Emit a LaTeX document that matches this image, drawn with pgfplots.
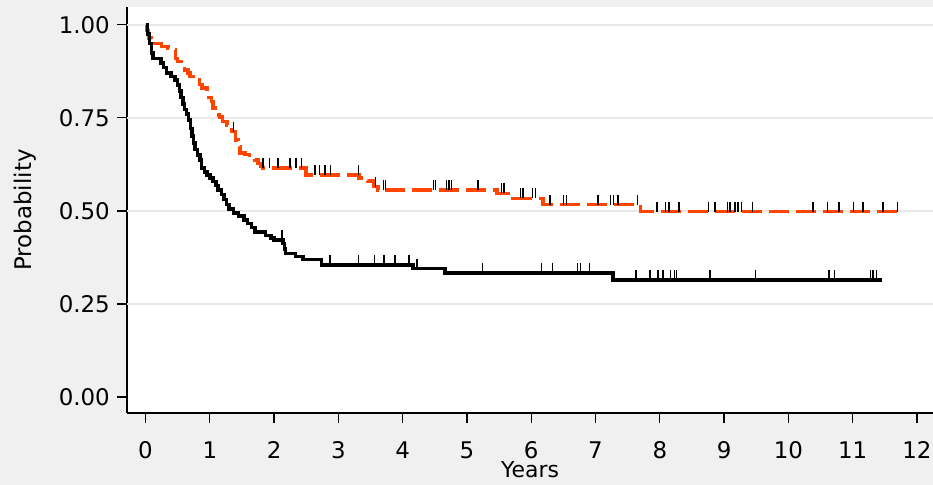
\documentclass[border=0pt]{standalone}
\usepackage{fontspec}
\setmainfont{DejaVu Sans}
\usepackage{pgfplots}
\pgfplotsset{compat=1.18}
\usepackage{pgfplotstable}
\definecolor{bggray}{RGB}{240,240,240}
\definecolor{gridgray}{RGB}{232,232,232}
\definecolor{kmorange}{RGB}{255,69,0}
\pgfdeclareplotmark{cens}{\pgfpathmoveto{\pgfpoint{0pt}{0pt}}\pgfpathlineto{\pgfpoint{0pt}{10bp}}\pgfusepathqstroke}

\pgfplotstableread{
t s
0.00 1.000
0.03 0.975
0.06 0.950
0.09 0.925
0.12 0.910
0.24 0.898
0.28 0.885
0.33 0.870
0.40 0.861
0.46 0.852
0.50 0.838
0.53 0.822
0.55 0.805
0.58 0.788
0.61 0.772
0.64 0.760
0.67 0.745
0.70 0.722
0.72 0.702
0.75 0.683
0.77 0.665
0.81 0.650
0.85 0.637
0.87 0.615
0.92 0.605
0.96 0.597
1.00 0.588
1.05 0.579
1.10 0.568
1.13 0.556
1.18 0.544
1.22 0.531
1.26 0.517
1.30 0.505
1.37 0.495
1.45 0.486
1.53 0.476
1.59 0.466
1.65 0.455
1.70 0.444
1.87 0.434
1.95 0.427
2.00 0.422
2.14 0.412
2.16 0.398
2.18 0.386
2.33 0.377
2.45 0.369
2.74 0.355
4.16 0.345
4.66 0.333
7.27 0.315
11.45 0.315
}\blackkm

\pgfplotstableread{
t s
2.12 0.422
2.87 0.355
3.31 0.355
3.56 0.355
3.71 0.355
3.88 0.355
4.10 0.355
4.22 0.345
5.24 0.333
6.16 0.333
6.33 0.333
6.72 0.333
6.77 0.333
6.91 0.333
7.63 0.315
7.85 0.315
7.97 0.315
8.05 0.315
8.17 0.315
8.23 0.315
8.26 0.315
8.78 0.315
9.49 0.315
10.63 0.315
10.72 0.315
11.28 0.315
11.32 0.315
11.37 0.315
}\blackcens

\pgfplotstableread{
t s
0.00 1.000
0.02 0.985
0.05 0.965
0.09 0.955
0.15 0.950
0.25 0.942
0.35 0.937
0.42 0.933
0.47 0.910
0.50 0.901
0.56 0.892
0.61 0.879
0.66 0.870
0.69 0.861
0.78 0.852
0.84 0.840
0.88 0.830
0.96 0.821
0.99 0.805
1.03 0.794
1.05 0.776
1.08 0.758
1.15 0.753
1.20 0.740
1.27 0.731
1.34 0.713
1.40 0.691
1.44 0.673
1.47 0.655
1.55 0.651
1.62 0.642
1.70 0.637
1.75 0.628
1.80 0.619
1.82 0.615
2.50 0.597
3.32 0.588
3.45 0.580
3.55 0.565
3.62 0.556
5.47 0.547
5.72 0.534
6.18 0.517
7.70 0.498
11.70 0.498
}\orangekm

\pgfplotstableread{
t s
1.37 0.713
1.83 0.615
1.93 0.615
2.06 0.615
2.25 0.615
2.34 0.615
2.43 0.615
2.64 0.597
2.71 0.597
2.79 0.597
2.88 0.597
3.31 0.597
3.58 0.565
3.70 0.556
3.73 0.556
4.48 0.556
4.51 0.556
4.68 0.556
4.72 0.556
4.76 0.556
5.17 0.556
5.54 0.547
5.58 0.547
5.83 0.534
5.87 0.534
6.02 0.534
6.07 0.534
6.29 0.517
6.50 0.517
6.55 0.517
7.04 0.517
7.23 0.517
7.28 0.517
7.35 0.517
7.65 0.517
7.96 0.498
8.09 0.498
8.14 0.498
8.30 0.498
8.76 0.498
8.86 0.498
9.05 0.498
9.09 0.498
9.17 0.498
9.22 0.498
9.27 0.498
9.44 0.498
10.38 0.498
10.61 0.498
10.79 0.498
11.01 0.498
11.16 0.498
11.47 0.498
11.70 0.498
}\orangecens

\begin{document}
\begin{tikzpicture}
\fill[bggray] (0,0) rectangle (933bp,485bp);
\useasboundingbox (0,0) rectangle (933bp,485bp);
\begin{axis}[
  at={(127bp,72bp)}, anchor=south west,
  scale only axis, width=806bp, height=406bp,
  xmin=-0.288, xmax=12.25, ymin=-0.043, ymax=1.048,
  axis x line*=bottom, axis y line*=left,
  axis line style={black, line width=1.2bp, -},
  axis background/.style={fill=white},
  xtick={0,1,2,3,4,5,6,7,8,9,10,11,12},
  xticklabels={0,1,2,3,4,5,6,7,8,9,10,11,12},
  ytick={0,0.25,0.5,0.75,1},
  yticklabels={0.00,0.25,0.50,0.75,1.00},
  extra y ticks={0.25,0.5,0.75,1},
  extra y tick labels={},
  extra y tick style={grid=major, major tick length=0pt},
  grid style={gridgray, line width=2bp},
  tick align=outside, major tick length=10bp,
  tick style={black, line width=1.2bp},
  tick label style={font=\fontsize{23}{27}\selectfont},
  xticklabel style={anchor=base, yshift=-35bp},
  yticklabel style={anchor=east, inner sep=0pt, xshift=-7bp},
  xlabel={Years}, ylabel={Probability},
  every axis x label/.style={at={(axis description cs:0.5,-0.160)}, anchor=base, font=\fontsize{22}{26}\selectfont},
  every axis y label/.style={at={(axis description cs:-0.1266,0.5)}, rotate=90, anchor=center, font=\fontsize{23}{27}\selectfont},
  clip=false,
]
\addplot[const plot, kmorange, line width=3.5bp, dash pattern=on 20bp off 7bp] table[x=t,y=s] {\orangekm};
\addplot[const plot, black, line width=3.5bp] table[x=t,y=s] {\blackkm};
\addplot[only marks, mark=cens, black, line width=1.5bp] table[x=t,y=s] {\orangecens};
\addplot[only marks, mark=cens, black, line width=1.5bp] table[x=t,y=s] {\blackcens};
\end{axis}
\end{tikzpicture}
\end{document}
